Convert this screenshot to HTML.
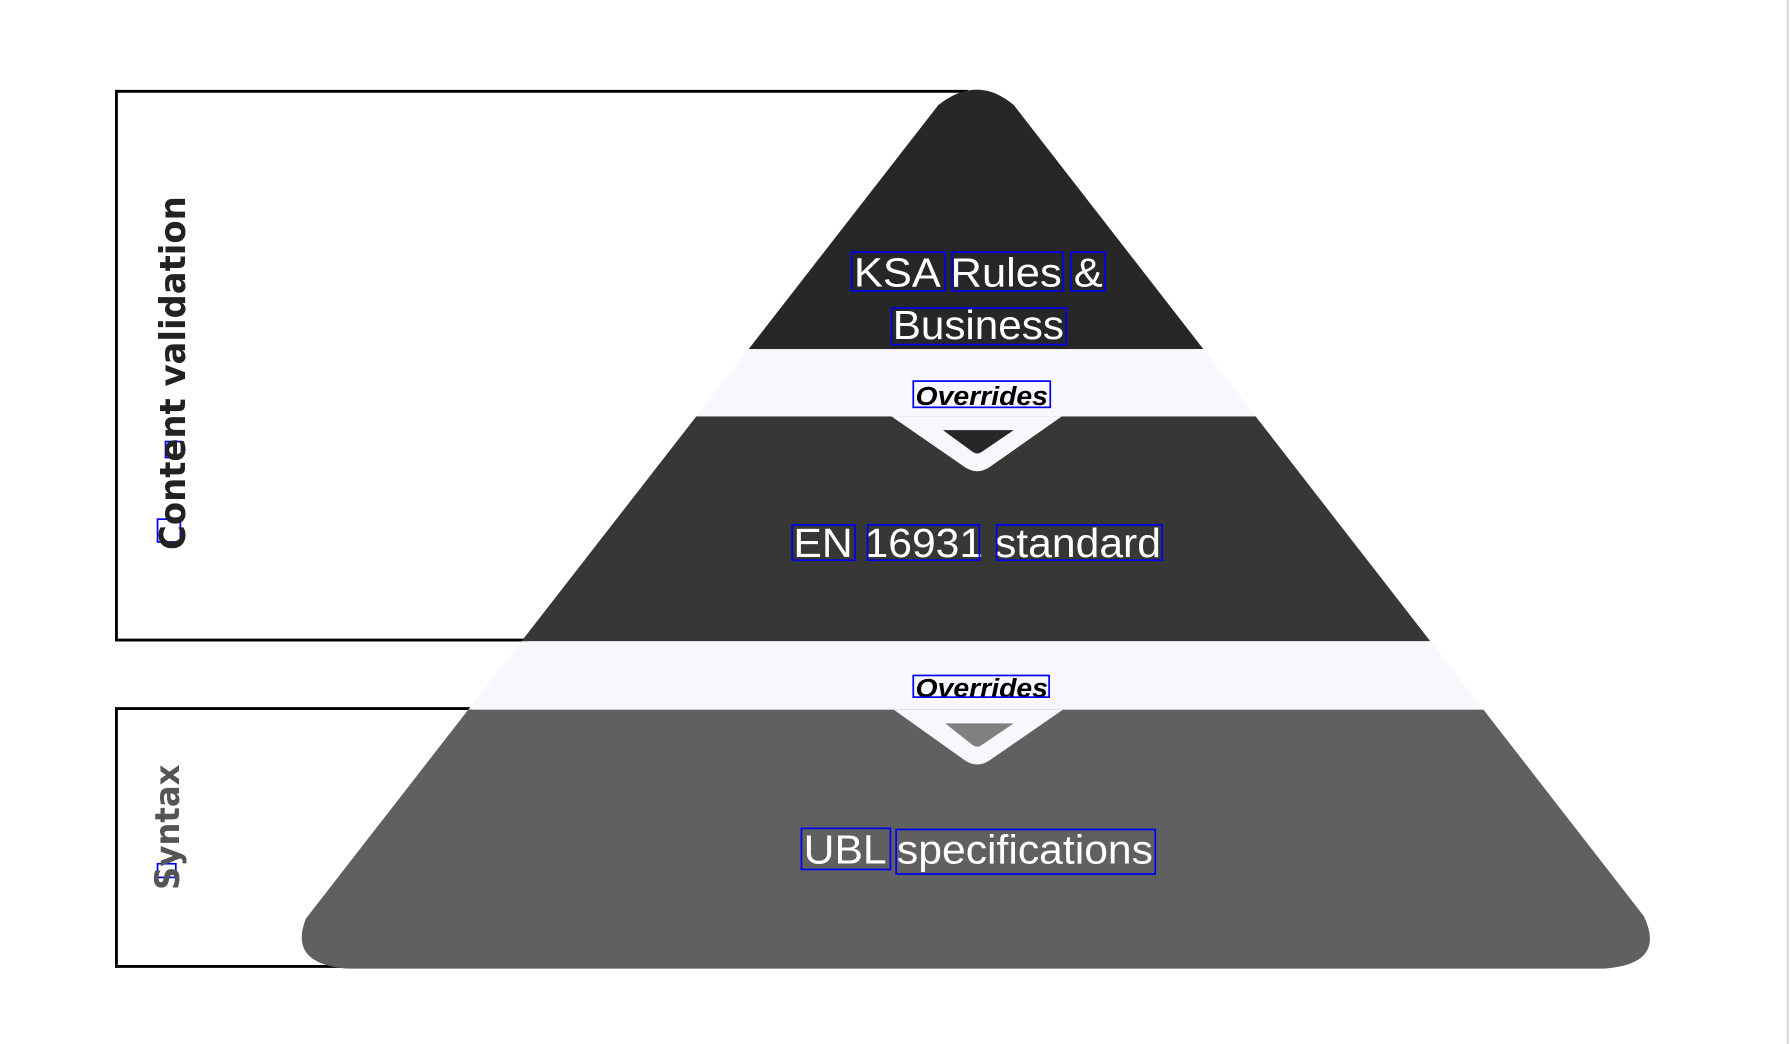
<!DOCTYPE html>
<html><head><meta charset="utf-8"><style>html,body{margin:0;padding:0;background:#fff}svg{display:block}</style></head>
<body>
<svg width="1790" height="1044" viewBox="0 0 1568 915" preserveAspectRatio="none" xmlns="http://www.w3.org/2000/svg">
<defs>
<clipPath id="pyr"><path d="M268,805 L822,92 Q856,65 888,92 L1440,803 Q1460,845 1405,849 L305,849 Q252,845 268,805 Z"/></clipPath>
</defs>
<rect x="1565" y="0" width="2" height="915" fill="#ddd"/>
<polyline points="848,80 102,80 102,561 462,561" fill="none" stroke="#000" stroke-width="2.5"/>
<polyline points="414,621 102,621 102,847 300,847" fill="none" stroke="#000" stroke-width="2.5"/>
<g clip-path="url(#pyr)">
<rect x="0" y="0" width="1568" height="306" fill="#272727"/>
<rect x="0" y="306" width="1568" height="59" fill="#f9f7fd"/>
<rect x="0" y="365" width="1568" height="197" fill="#373836"/>
<rect x="0" y="562" width="1568" height="60" fill="#f9f7fd"/>
<rect x="0" y="622" width="1568" height="230" fill="#606060"/>
</g>
<path d="M781,365 L930,365 L866,410 Q856,416 846,410 Z" fill="#f9f7fd"/>
<path d="M826,377 L888,377 L860,396 Q856,399 852,396 Z" fill="#272727"/>
<path d="M783,622 L931,622 L866,667 Q856,673 846,667 Z" fill="#f9f7fd"/>
<path d="M828,634 L888,634 L860,653 Q856,656 852,653 Z" fill="#808080"/>
<g font-family="Liberation Sans, Arial, sans-serif" fill="#fff" font-size="36" text-anchor="middle">
<text x="857" y="251" textLength="218" lengthAdjust="spacingAndGlyphs">KSA Rules &amp;</text>
<text x="857" y="297" textLength="150" lengthAdjust="spacingAndGlyphs">Business</text>
<text x="856" y="488" textLength="322" lengthAdjust="spacingAndGlyphs">EN 16931 standard</text>
<text x="857" y="757" textLength="306" lengthAdjust="spacingAndGlyphs">UBL specifications</text>
</g>
<g font-family="Liberation Sans, Arial, sans-serif" font-weight="bold" font-style="italic" font-size="23" text-anchor="middle" fill="#000">
<text x="860" y="355" textLength="116" lengthAdjust="spacingAndGlyphs">Overrides</text>
<text x="860" y="611" textLength="116" lengthAdjust="spacingAndGlyphs">Overrides</text>
</g>
<g fill="none" stroke="#0000ee" stroke-width="1.5">
<rect x="746" y="221" width="82" height="34"/><rect x="834" y="221" width="97" height="34"/><rect x="938" y="221" width="30" height="34"/>
<rect x="781" y="270" width="153" height="32"/>
<rect x="800" y="334" width="120" height="23"/><rect x="800" y="592" width="119" height="19"/>
<rect x="694" y="460" width="55" height="31"/><rect x="760" y="460" width="98" height="31"/><rect x="873" y="460" width="145" height="31"/>
<rect x="702" y="726" width="78" height="36"/><rect x="785" y="727" width="227" height="39"/>
<rect x="145" y="387" width="14" height="14"/><rect x="138" y="455" width="20" height="20"/><rect x="138" y="757" width="16" height="12"/>
</g>
<text transform="translate(162,327) rotate(-90)" text-anchor="middle" font-family="DejaVu Sans, Liberation Sans, sans-serif" font-weight="bold" font-size="31" fill="#222" textLength="310" lengthAdjust="spacingAndGlyphs">Content validation</text>
<text transform="translate(157,725) rotate(-90)" text-anchor="middle" font-family="DejaVu Sans, Liberation Sans, sans-serif" font-weight="bold" font-size="30" fill="#555" textLength="110" lengthAdjust="spacingAndGlyphs">Syntax</text>
</svg>
</body></html>
